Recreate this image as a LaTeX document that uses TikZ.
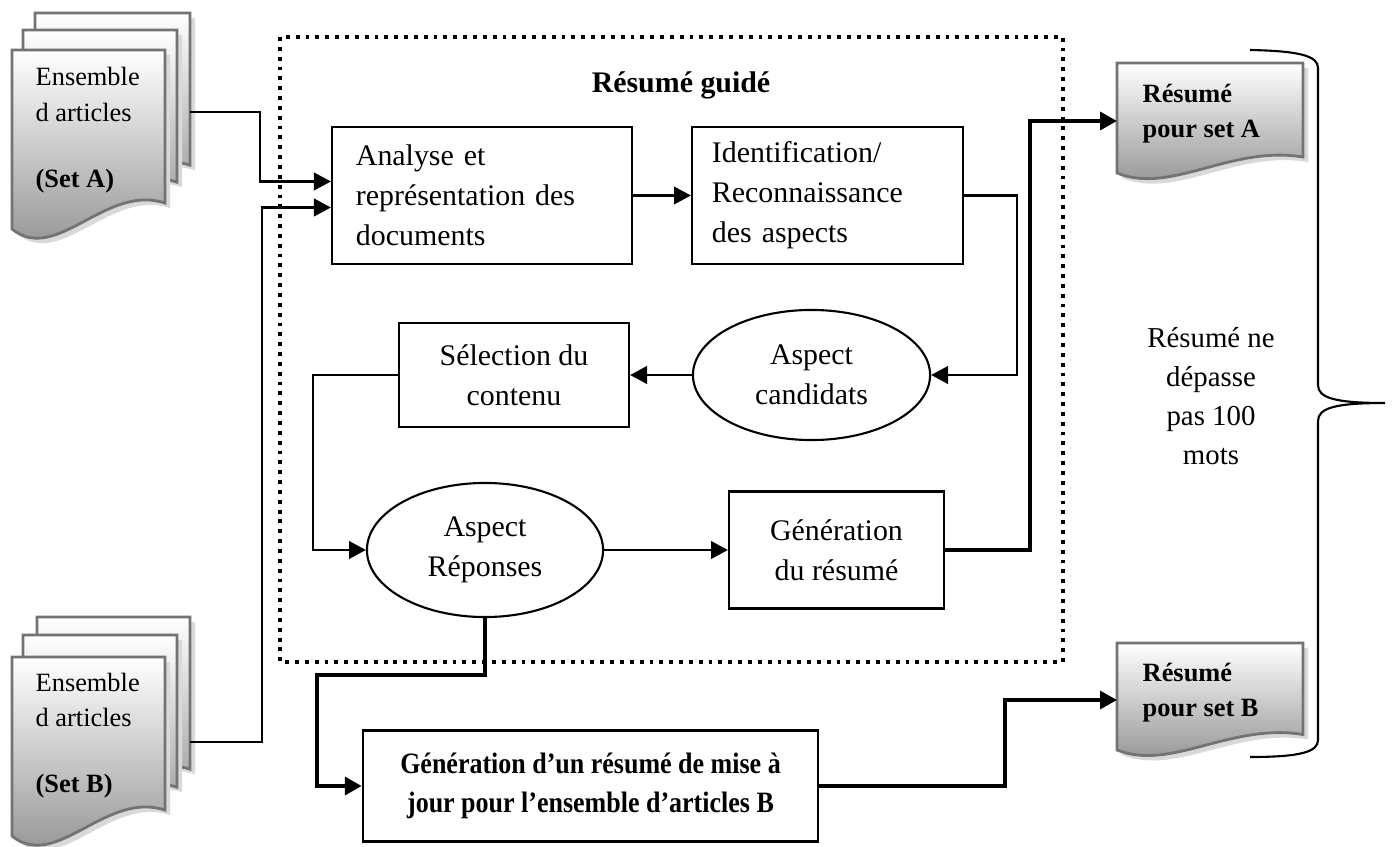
\documentclass[tikz,border=0pt]{standalone}
\usepackage{fontspec}
\setmainfont{Liberation Serif}
\usetikzlibrary{arrows.meta,shapes.geometric}

% page de document avec bord ondule et ombre
\newcommand{\docpage}[4]{%
  \fill[black!15] (#1+5,#2+5) -- (#1+#3+5,#2+5) -- (#1+#3+5,#2+0.855*#4+5) .. controls (#1+0.61*#3+5,#2+0.745*#4+5) and (#1+0.29*#3+5,#2+1.2*#4+5) .. (#1+5,#2+#4+5) -- cycle;
  \draw[page] (#1,#2) -- (#1+#3,#2) -- (#1+#3,#2+0.855*#4) .. controls (#1+0.61*#3,#2+0.745*#4) and (#1+0.29*#3,#2+1.2*#4) .. (#1,#2+#4) -- cycle;
}

\begin{document}
\begin{tikzpicture}[x=0.01cm,y=-0.01cm,
    page/.style={draw=black!55, line width=0.8pt, top color=white, bottom color=black!45},
    boite/.style={draw, line width=0.6pt, font=\fontsize{8.5}{11.4}\selectfont},
    bulle/.style={draw, ellipse, line width=0.6pt, inner sep=0pt, align=center, font=\fontsize{8.5}{11.4}\selectfont},
    pile/.style={anchor=north west, inner sep=0pt, align=left, font=\fontsize{7.5}{10}\selectfont},
    resume/.style={anchor=west, align=left, inner xsep=0.25cm, text depth=6pt, font=\bfseries\fontsize{7.5}{10}\selectfont},
    fleche/.style={line width=0.6pt, -{Triangle[length=4.8pt,width=5pt]}},
    grosse/.style={line width=1.4pt, -{Triangle[length=4.8pt,width=5pt]}}]
\useasboundingbox (0,0) rectangle (1392,846);

% Set A
\docpage{35}{13}{155}{178}
\docpage{23}{30}{154}{178}
\docpage{12}{50}{153}{179}
\node[pile] (setA) at (35,67) {Ensemble\\d articles\\[9pt]\textbf{(Set A)}};
\coordinate (pileA) at (190,112);

% Set B
\docpage{37}{617}{153}{178}
\docpage{23}{635}{154}{178}
\docpage{12}{657}{153}{179}
\node[pile] (setB) at (35,672) {Ensemble\\d articles\\[9pt]\textbf{(Set B)}};
\coordinate (pileB) at (190,742);

% cadre du resume guide
\draw[line width=1.1pt, dash pattern=on 1.1pt off 1.7pt] (280,37) rectangle (1063,662);
\node[font=\bfseries\fontsize{8.5}{11.4}\selectfont] (guide) at (681,85) {Résumé guidé};

\node[boite, text width=2.52cm, inner xsep=0.24cm, minimum height=1.37cm, align=left] (analyse) at (482,195.5) {Analyse et\\représentation des\\documents};
\node[boite, text width=2.31cm, inner xsep=0.2cm, minimum height=1.37cm, align=left] (ident) at (827.5,195.5) {Identification/\\Reconnaissance\\des aspects};
\node[bulle, minimum width=2.37cm, minimum height=1.30cm] (cand) at (811.5,375) {Aspect\\candidats};
\node[boite, minimum width=2.30cm, minimum height=1.04cm, align=center] (select) at (514,375) {Sélection du\\contenu};
\node[bulle, minimum width=2.36cm, minimum height=1.34cm] (rep) at (485,550) {Aspect\\Réponses};
\node[boite, minimum width=2.15cm, minimum height=1.17cm, align=center] (gen) at (836.5,550) {Génération\\du résumé};
\node[boite, minimum width=4.55cm, minimum height=1.11cm, align=center, font=\bfseries\fontsize{8.4}{11.1}\selectfont\addfontfeature{FakeStretch=0.88}] (maj) at (590.5,786) {Génération d’un résumé de mise à\\jour pour l’ensemble d’articles B};

% resumes produits
\docpage{1117}{63}{186}{110}
\node[resume] (sumA) at (1117,121) {Résumé\\pour set A};
\docpage{1117}{643}{186}{107}
\node[resume] (sumB) at (1117,700) {Résumé\\pour set B};

% accolade
\draw[line width=0.6pt] (1250,50) .. controls (1300,51) and (1318,56) .. (1318,68) -- (1318,385) .. controls (1318,398) and (1335,403) .. (1385,403) .. controls (1335,403) and (1318,408) .. (1318,421) -- (1318,740) .. controls (1318,752) and (1300,757) .. (1250,757);
\node[align=center, font=\fontsize{8.2}{11.1}\selectfont] (limite) at (1211,396) {Résumé ne\\dépasse\\pas 100\\mots};

% fleches
\draw[fleche] (pileA) -- (260,112) |- ([yshift=0.14cm]analyse.west);
\draw[fleche] (pileB) -- (262,742) |- ([yshift=-0.12cm]analyse.west);
\draw[fleche] (analyse.east) -- (ident.west);
\draw[fleche] (ident.east) -- (1017,195.5) |- (cand.east);
\draw[fleche] (cand.west) -- (select.east);
\draw[fleche] (select.west) -- (313,375) |- (rep.west);
\draw[fleche] (rep.east) -- (gen.west);
\draw[grosse] (gen.east) -- (1030,550) |- (sumA.west);
\draw[grosse] (rep.south) |- (317,675) |- (maj.west);
\draw[grosse] (maj.east) -- (1005,786) |- (sumB.west);
\end{tikzpicture}
\end{document}
